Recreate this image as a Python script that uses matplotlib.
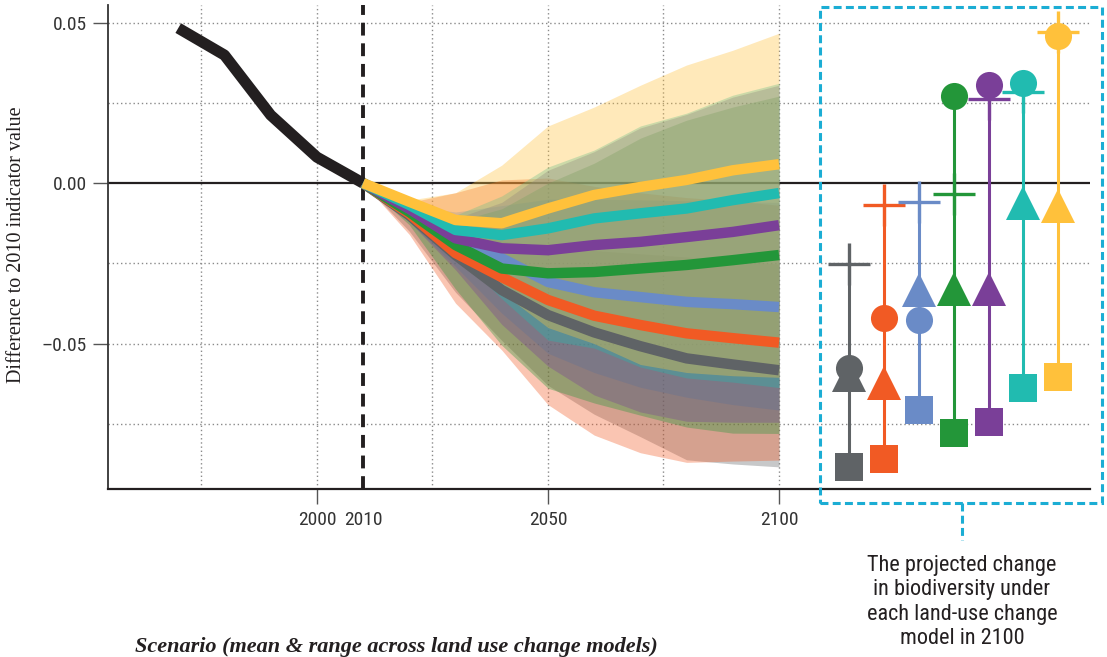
import numpy as np
import matplotlib.pyplot as plt
from matplotlib import font_manager
from matplotlib.patches import Rectangle
from matplotlib.lines import Line2D

# === Data ===
hist_years = [1970, 1980, 1990, 2000, 2010]
hist_vals = [0.0483, 0.0399, 0.0212, 0.0081, 0.0]

years = [2010, 2020, 2030, 2040, 2050, 2060, 2070, 2080, 2090, 2100]

scenarios = ["grey", "orange", "blue", "green", "purple", "teal", "yellow"]
colors = ["#5F6366", "#F15A24", "#6A8BC7", "#239639", "#7A3F98", "#21BBB0", "#FFC13B"]

grey_mean = [0, -0.0100, -0.0224, -0.0333, -0.0411, -0.0465, -0.0508, -0.0546, -0.0565, -0.0583]
orange_mean = [0, -0.0095, -0.0218, -0.0293, -0.0364, -0.0413, -0.0442, -0.0468, -0.0483, -0.0497]
blue_mean = [0, -0.0085, -0.0178, -0.0234, -0.0308, -0.0340, -0.0355, -0.0370, -0.0377, -0.0386]
green_mean = [0, -0.0090, -0.0193, -0.0266, -0.0281, -0.0277, -0.0266, -0.0255, -0.0240, -0.0224]
purple_mean = [0, -0.0080, -0.0172, -0.0203, -0.0209, -0.0193, -0.0183, -0.0168, -0.0152, -0.0131]
teal_mean = [0, -0.0068, -0.0146, -0.0162, -0.0141, -0.0110, -0.0094, -0.0079, -0.0053, -0.0031]
yellow_mean = [0, -0.0058, -0.0115, -0.0125, -0.0079, -0.0037, -0.0012, 0.0010, 0.0040, 0.0059]

grey_hi = [0, -0.008, -0.015, -0.018, -0.020, -0.021, -0.022, -0.023, -0.024, -0.0252]
grey_lo = [0, -0.015, -0.034, -0.049, -0.063, -0.072, -0.079, -0.0862, -0.0875, -0.0884]
orange_hi = [0, -0.006, -0.003, 0.001, 0.0016, -0.001, -0.003, -0.0045, -0.0055, -0.0069]
orange_lo = [0, -0.016, -0.0374, -0.052, -0.069, -0.0785, -0.084, -0.087, -0.0866, -0.0863]
blue_hi = [0, -0.007, -0.009, -0.007, -0.005, -0.005, -0.0052, -0.0055, -0.0058, -0.0060]
blue_lo = [0, -0.012, -0.026, -0.0405, -0.053, -0.059, -0.0636, -0.0667, -0.069, -0.0707]
green_hi = [0, -0.008, -0.012, -0.008, 0.000, 0.0062, 0.014, 0.0196, 0.0237, 0.0271]
green_lo = [0, -0.013, -0.033, -0.0505, -0.0639, -0.0685, -0.0723, -0.0760, -0.0779, -0.0780]
purple_hi = [0, -0.007, -0.011, -0.006, 0.004, 0.0098, 0.0172, 0.0214, 0.0268, 0.0305]
purple_lo = [0, -0.012, -0.027, -0.044, -0.057, -0.0660, -0.0713, -0.0742, -0.0745, -0.0745]
teal_hi = [0, -0.007, -0.010, -0.004, 0.005, 0.0103, 0.0178, 0.0218, 0.0274, 0.0311]
teal_lo = [0, -0.010, -0.022, -0.036, -0.0489, -0.0514, -0.0573, -0.0607, -0.0620, -0.0637]
yellow_hi = [0, -0.0053, -0.003, 0.0056, 0.0178, 0.0237, 0.0305, 0.0368, 0.0414, 0.0467]
yellow_lo = [0, -0.010, -0.021, -0.034, -0.045, -0.050, -0.0565, -0.0590, -0.0600, -0.0605]

means = [grey_mean, orange_mean, blue_mean, green_mean, purple_mean, teal_mean, yellow_mean]
highs = [grey_hi, orange_hi, blue_hi, green_hi, purple_hi, teal_hi, yellow_hi]
lows = [grey_lo, orange_lo, blue_lo, green_lo, purple_lo, teal_lo, yellow_lo]

# 2100 values per land-use change model (one per scenario)
plus_vals = [-0.0252, -0.0069, -0.0060, -0.0034, 0.0262, 0.0284, 0.0470]
circle_vals = [-0.0577, -0.0421, -0.0427, 0.0271, 0.0305, 0.0311, 0.0458]
tri_vals = [-0.0598, -0.0622, -0.0333, -0.0330, -0.0330, -0.0062, -0.0071]
square_vals = [-0.0884, -0.0860, -0.0707, -0.0780, -0.0745, -0.0637, -0.0605]

xticks = [2000, 2010, 2050, 2100]
yticks = [0.05, 0.0, -0.05]
ytick_labels = ["0.05", "0.00", "\u20130.05"]

# pick a condensed sans if one is installed
installed = {f.name for f in font_manager.fontManager.ttflist}
cond = [f for f in ["Roboto Condensed", "Liberation Sans Narrow", "Open Sans Condensed"]
        if f in installed]
if cond:
    narrow = dict(family=[cond[0], "DejaVu Sans"])
    shrink = 1.0
else:
    narrow = dict(family=["Liberation Sans", "DejaVu Sans"])
    shrink = 0.9
serif = ["Liberation Serif", "DejaVu Serif"]

# === Figure ===
fig = plt.figure(figsize=(11.07, 6.57), dpi=100)
ax = fig.add_axes([108 / 1107, 1 - 489 / 657, (1090 - 108) / 1107, (489 - 5) / 657])
ax.set_xlim(1954.8, 2167.3)
ax.set_ylim(-0.0953, 0.0555)

# grid
for gx in [1975, 2000, 2025, 2050, 2075, 2100]:
    ax.axvline(gx, color="#8a8a8a", lw=1, ls=(0, (1, 2)), zorder=0.5)
for gy in [0.05, 0.025, -0.025, -0.05, -0.075]:
    ax.axhline(gy, color="#8a8a8a", lw=1, ls=(0, (1, 2)), zorder=0.5)

ax.axhline(0, color="#231F20", lw=1.6, zorder=1)
ax.axvline(2010, color="#231F20", lw=2.8, ls=(0, (3.3, 2.0)), zorder=1)

# ranges
for c, lo, hi in zip(colors, lows, highs):
    ax.fill_between(years, lo, hi, color=c, alpha=0.35, lw=0, zorder=2)

# historical and means
ax.plot(hist_years, hist_vals, color="#231F20", lw=8, solid_capstyle="butt", zorder=3)
for c, m in zip(colors, means):
    ax.plot(years, m, color=c, lw=7.5, solid_capstyle="butt", zorder=3)

# 2100 values per model
x0, step = 2115.1, 7.56
for i, c in enumerate(colors):
    xm = x0 + step * i
    vals = [plus_vals[i], circle_vals[i], tri_vals[i], square_vals[i]]
    ax.plot([xm, xm], [min(vals), max(vals)], color=c, lw=2.2, zorder=4)
    ax.plot(xm, plus_vals[i], marker="+", ms=30, mew=2.4, color=c, zorder=5)
    ax.plot(xm, circle_vals[i], marker="o", ms=19.5, mew=0, color=c, zorder=5)
    ax.plot(xm, tri_vals[i], marker="^", ms=24, mew=0, color=c, zorder=5)
    ax.plot(xm, square_vals[i], marker="s", ms=19.5, mew=0, color=c, zorder=5)

# axes styling
for s in ["top", "right"]:
    ax.spines[s].set_visible(False)
ax.spines["left"].set_color("#333333")
ax.spines["left"].set_linewidth(1.3)
ax.spines["bottom"].set_color("#231F20")
ax.spines["bottom"].set_linewidth(1.6)

ax.set_xticks(xticks)
ax.set_xticklabels([str(x) for x in xticks], fontsize=14 * shrink, color="#333333", **narrow)
ax.set_yticks(yticks)
ax.set_yticklabels(ytick_labels, fontsize=14 * shrink, color="#333333", **narrow)
ax.tick_params(axis="both", direction="out", length=11, width=1, color="#555555")
ax.tick_params(axis="x", pad=5)
ax.tick_params(axis="y", pad=4)
ax.xaxis.get_major_ticks()[1].tick1line.set_visible(False)
ax.xaxis.get_major_ticks()[3].tick1line.set_color("#999999")

fig.text(17 / 1107, 1 - 245 / 657, "Difference to 2010 indicator value", rotation=90,
         ha="center", va="center", family=serif, fontsize=14.5, color="#231F20")

fig.text(135 / 1107, 1 - 637 / 657, "Scenario (mean & range across land use change models)",
         ha="left", va="top", family=serif, fontsize=16, fontweight="bold",
         fontstyle="italic", color="#231F20")

# dashed box around the 2100 panel
box_col = "#1BADD4"
fig.patches.append(Rectangle((820 / 1107, 1 - 503 / 657), (1102 - 820) / 1107, (503 - 7) / 657,
                             transform=fig.transFigure, fill=False, ec=box_col, lw=2.2,
                             ls=(0, (2.6, 1.4))))
fig.lines.append(Line2D([962 / 1107, 962 / 1107], [1 - 503 / 657, 1 - 540 / 657],
                        transform=fig.transFigure, color=box_col, lw=2.2, ls=(0, (2.6, 1.4))))
fig.text(962 / 1107, 1 - 602 / 657,
         "The projected change\nin biodiversity under\neach land-use change\nmodel in 2100",
         ha="center", va="center", fontsize=16 * shrink, linespacing=1.22,
         color="#231F20", **narrow)

plt.savefig("out.png", dpi=100)
